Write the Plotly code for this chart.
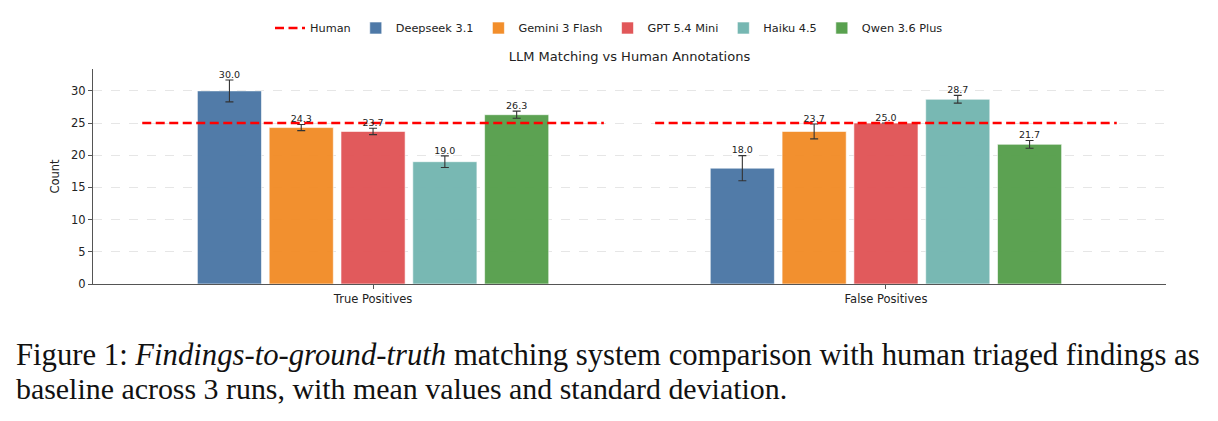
import plotly.graph_objects as go

categories = ["True Positives", "False Positives"]
models = ["Deepseek 3.1", "Gemini 3 Flash", "GPT 5.4 Mini", "Haiku 4.5", "Qwen 3.6 Plus"]
colors = ["#4e79a7", "#f28e2b", "#e15759", "#76b7b2", "#59a14f"]
means = {
    "Deepseek 3.1": [30.0, 18.0],
    "Gemini 3 Flash": [24.3, 23.7],
    "GPT 5.4 Mini": [23.7, 25.0],
    "Haiku 4.5": [19.0, 28.7],
    "Qwen 3.6 Plus": [26.3, 21.7],
}
stds = {
    "Deepseek 3.1": [1.7, 1.95],
    "Gemini 3 Flash": [0.47, 1.15],
    "GPT 5.4 Mini": [0.5, 0.0],
    "Haiku 4.5": [0.9, 0.6],
    "Qwen 3.6 Plus": [0.55, 0.6],
}
human = [25, 25]

W, H = 1218, 421
ML, MR, MT, MB = 93, 52, 69, 137
slot = 0.14
bargap = 1 - slot * len(models)

fig = go.Figure()

# Human baseline
hx, hy = [], []
for i, v in enumerate(human):
    hx += [i - 0.45, i + 0.45, None]
    hy += [v, v, None]
fig.add_trace(go.Scatter(x=hx, y=hy, mode="lines", name="Human",
                         line=dict(color="#ff0000", width=2.6, dash="9px,4.5px"),
                         hoverinfo="skip"))

for k, m in enumerate(models):
    fig.add_trace(go.Bar(
        x=list(range(len(categories))), y=means[m], name=m,
        marker=dict(color=colors[k], opacity=0.98, line=dict(color="rgba(255,255,255,0.6)", width=1)),
        error_y=dict(type="data", array=stds[m], color="#333333", thickness=1.1, width=4),
    ))

# value labels above error bars
for k, m in enumerate(models):
    off = (k - (len(models) - 1) / 2) * slot
    fig.add_trace(go.Scatter(
        x=[i + off for i in range(len(categories))],
        y=[mu + s for mu, s in zip(means[m], stds[m])],
        mode="text", text=[f"{v:.1f}" for v in means[m]],
        textposition="top center", textfont=dict(size=9.5, color="#222222"),
        showlegend=False, hoverinfo="skip", cliponaxis=False,
    ))

fig.update_layout(
    width=W, height=H,
    margin=dict(l=ML, r=MR, t=MT, b=MB),
    paper_bgcolor="white", plot_bgcolor="white",
    font=dict(family="DejaVu Sans", size=11.5, color="#222222"),
    barmode="group", bargap=bargap, bargroupgap=0.107,
    title=dict(text="LLM Matching vs Human Annotations", x=0.5, xref="paper", xanchor="center",
               y=1 - 56 / H, yanchor="middle", font=dict(size=13, color="#222222")),
    legend=dict(orientation="h", x=609 / W, xref="container", xanchor="center",
                y=1 - 28 / H, yref="container", yanchor="middle",
                font=dict(size=11.3), itemwidth=30, tracegroupgap=0,
                traceorder="normal"),
    showlegend=True,
)
fig.update_xaxes(range=[-0.546, 1.546], tickvals=[0, 1], ticktext=categories,
                 showline=True, linecolor="#555555", linewidth=1.2,
                 ticks="outside", ticklen=4, tickcolor="#555555",
                 showgrid=False, zeroline=False, tickfont=dict(size=11.5))
fig.update_yaxes(range=[0, 33.4], tickvals=[0, 5, 10, 15, 20, 25, 30],
                 showline=True, linecolor="#555555", linewidth=1.2,
                 ticks="outside", ticklen=4, tickcolor="#555555",
                 showgrid=True, gridcolor="#e6e6e6", griddash="dash", gridwidth=0.8,
                 zeroline=False, tickfont=dict(size=11.5),
                 title=dict(text="Count", font=dict(size=11.5), standoff=8))

pw = W - ML - MR
ph = H - MT - MB
fig.add_annotation(xref="paper", yref="paper",
                   x=(14 - ML) / pw, y=(H - MB - 355) / ph,
                   xanchor="left", yanchor="middle", showarrow=False,
                   text="Figure 1: <i>Findings-to-ground-truth</i> matching system comparison with human triaged findings as",
                   font=dict(family="Liberation Serif", size=30.7, color="#111111"))
fig.add_annotation(xref="paper", yref="paper",
                   x=(14 - ML) / pw, y=(H - MB - 388) / ph,
                   xanchor="left", yanchor="middle", showarrow=False,
                   text="baseline across 3 runs, with mean values and standard deviation.",
                   font=dict(family="Liberation Serif", size=29.9, color="#111111"))

fig.write_html("out.html")
